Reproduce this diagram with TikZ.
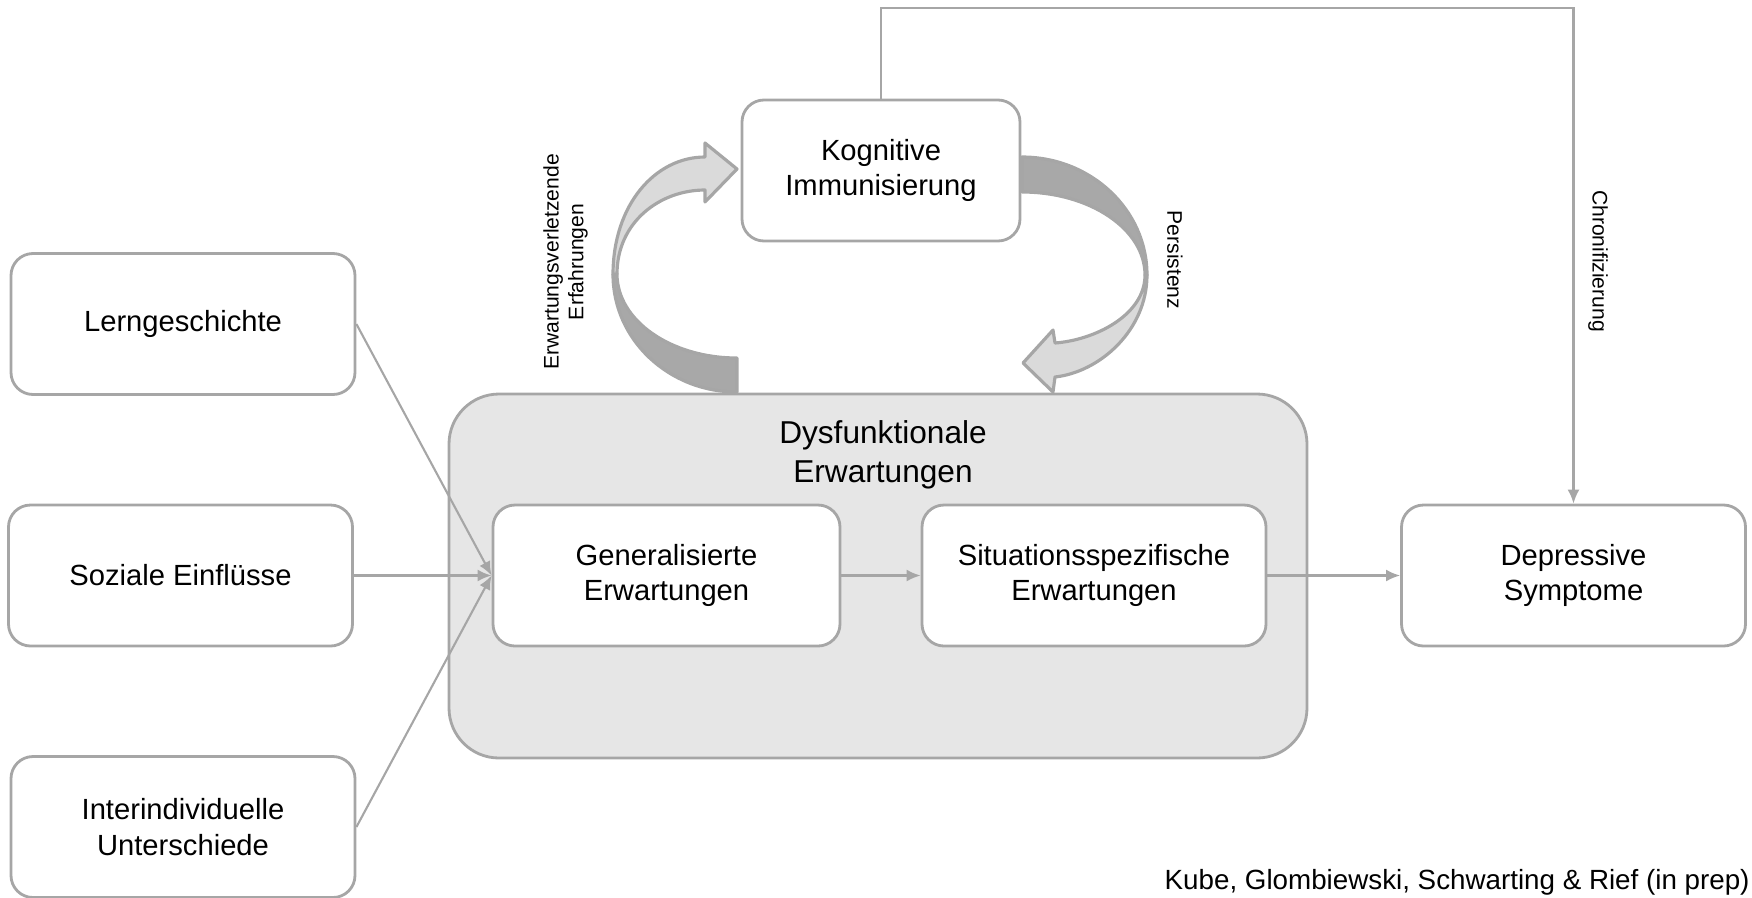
\documentclass[tikz,border=0pt]{standalone}
\usepackage{fontspec}
\setmainfont{Liberation Sans}
\usetikzlibrary{positioning,arrows.meta}
\definecolor{linegray}{HTML}{A6A6A6}
\definecolor{dysfill}{HTML}{E6E6E6}
\definecolor{bandback}{HTML}{A8A8A8}
\definecolor{bandfront}{HTML}{DADADA}
\tikzset{rbox/.style={draw=linegray,line width=0.8pt,rounded corners=0.22cm,fill=white,minimum width=3.44cm,minimum height=1.41cm,align=center,font=\fontsize{8.3}{10.2}\selectfont}}
\tikzset{dysbox/.style={draw=linegray,line width=0.8pt,rounded corners=0.5cm,fill=dysfill,minimum width=8.58cm,minimum height=3.64cm}}
\tikzset{side/.style={align=center,font=\fontsize{6}{7}\selectfont}}
\tikzset{band/.style={draw=linegray,line width=0.9pt,line join=round}}
\tikzset{conn/.style={->,draw=linegray,line width=0.6pt}}

\begin{document}
\begin{tikzpicture}[>={Latex[length=0.14cm,width=0.12cm]}]
    \useasboundingbox (0,0) rectangle (17.52,-8.97);

    \node[dysbox] (dys) at (8.78,-5.76) {};
    \node[align=center,font=\fontsize{9}{11}\selectfont] (dystitle) at (8.83,-4.55) {Dysfunktionale\\Erwartungen};

    \node[rbox] (lern) at (1.83,-3.24) {Lerngeschichte};
    \node[rbox] (soz) at (1.805,-5.755) {Soziale Einflüsse};
    \node[rbox] (inter) at (1.83,-8.27) {Interindividuelle\\Unterschiede};
    \node[rbox,minimum width=3.47cm] (gen) at (6.665,-5.755) {Generalisierte\\Erwartungen};
    \node[rbox] (sit) at (10.94,-5.755) {Situationsspezifische\\Erwartungen};
    \node[rbox] (dep) at (15.735,-5.755) {Depressive\\Symptome};
    \node[rbox,minimum width=2.78cm] (kog) at (8.81,-1.705) {Kognitive\\Immunisierung};

    % left curved arrow
    \path[band,fill=bandback] (6.13,-2.745) .. controls (6.13,-3.394) and (6.685,-3.92) .. (7.37,-3.92)
        -- (7.37,-3.58) .. controls (6.707,-3.58) and (6.17,-3.204) .. (6.17,-2.74) -- cycle;
    \path[band,fill=bandfront] (6.13,-2.745) .. controls (6.13,-2.05) and (6.55,-1.57) .. (7.05,-1.57)
        -- (7.05,-1.43) -- (7.37,-1.69) -- (7.05,-2.02) -- (7.05,-1.90)
        .. controls (6.60,-1.90) and (6.17,-2.22) .. (6.17,-2.74) -- cycle;

    % right curved arrow
    \path[band,fill=bandback] (10.22,-1.57) .. controls (10.91,-1.57) and (11.47,-2.098) .. (11.47,-2.75)
        -- (11.45,-2.75) .. controls (11.45,-2.292) and (10.90,-1.92) .. (10.22,-1.92) -- cycle;
    \path[band,fill=bandfront] (11.47,-2.75) .. controls (11.47,-3.30) and (11.00,-3.72) .. (10.55,-3.77)
        -- (10.53,-3.92) -- (10.23,-3.63) -- (10.53,-3.30) -- (10.55,-3.43)
        .. controls (10.95,-3.40) and (11.45,-3.15) .. (11.45,-2.75) -- cycle;

    \node[side,rotate=90] (erw) at (5.655,-2.62) {Erwartungsverletzende\\Erfahrungen};
    \node[side,rotate=-90] (pers) at (11.75,-2.60) {Persistenz};
    \node[side,rotate=-90] (chron) at (15.98,-2.61) {Chronifizierung};

    \draw[conn] (lern.east) -- (gen.west);
    \draw[conn] (soz.east) -- (gen.west);
    \draw[conn] (inter.east) -- (gen.west);
    \draw[conn] (gen) -- (sit);
    \draw[conn] (sit) -- (dep);
    \coordinate (chr) at (15.735,-0.08);
    \draw[conn] (kog.north) |- (chr) -- (dep.north);

    \node[anchor=base west,inner sep=0pt,font=\fontsize{7.9}{10}\selectfont] (cite) at (11.64,-8.89) {Kube, Glombiewski, Schwarting \& Rief (in prep)};
\end{tikzpicture}
\end{document}
